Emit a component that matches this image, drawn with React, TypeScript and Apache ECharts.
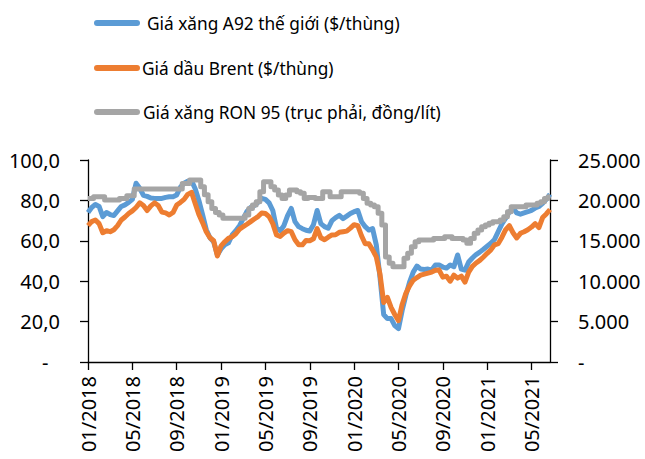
import React, { useEffect, useRef } from "react";
import * as echarts from "echarts";

// 10-day sampling (1st, 11th, 21st of each month), Jan 2018 – Jun 2021
const YEARS = [2018, 2019, 2020, 2021];
const DAYS = [1, 11, 21];
const LAST_MONTH_2021 = 6;

const categories: string[] = [];
YEARS.forEach((y) => {
  const maxM = y === 2021 ? LAST_MONTH_2021 : 12;
  for (let m = 1; m <= maxM; m++) {
    DAYS.forEach((d) => {
      categories.push(`${y}-${String(m).padStart(2, "0")}-${String(d).padStart(2, "0")}`);
    });
  }
});

// Giá xăng A92 thế giới ($/thùng)
const a92 = [
  // 2018
  74.0, 76.5, 78.0, 77.0, 72.0, 74.0, 73.0, 72.5, 74.8, 77.0, 77.8, 79.0,
  80.5, 88.5, 86.0, 82.5, 82.0, 81.2, 81.0, 81.0, 81.0, 81.5, 81.8, 81.8,
  82.7, 86.5, 88.5, 89.5, 89.8, 85.8, 80.0, 73.0, 65.5, 61.5, 59.5, 53.0,
  // 2019
  56.0, 58.0, 59.0, 62.9, 65.0, 67.5, 71.0, 74.5, 76.5, 77.5, 79.0, 81.0,
  80.5, 78.8, 75.0, 66.2, 65.0, 67.5, 72.5, 76.0, 69.5, 67.0, 66.0, 65.2,
  64.8, 68.0, 75.0, 68.5, 67.0, 66.2, 70.0, 71.5, 72.6, 71.0, 72.2, 73.5,
  // 2020
  74.4, 75.0, 69.5, 67.0, 65.3, 66.0, 58.0, 42.0, 23.5, 21.5, 21.5, 18.0,
  16.5, 25.5, 33.0, 39.5, 44.5, 47.5, 46.0, 45.8, 46.0, 45.5, 48.0, 48.0,
  47.0, 46.5, 48.0, 47.2, 53.0, 46.0, 45.5, 49.5, 51.5, 53.2, 54.4, 55.8,
  // 2021
  57.3, 58.8, 60.7, 64.6, 68.4, 71.2, 74.3, 76.3, 73.8, 73.2, 73.8, 74.4,
  75.1, 76.2, 77.0, 78.5, 80.5, 83.0,
];

// Giá dầu Brent ($/thùng)
const brent = [
  // 2018
  67.5, 69.5, 70.3, 68.5, 64.0, 65.0, 64.5, 65.5, 67.5, 70.3, 71.8, 73.5,
  74.8, 76.5, 78.8, 77.5, 75.0, 77.3, 78.8, 77.5, 74.2, 73.8, 72.8, 74.0,
  77.7, 79.0, 80.5, 83.0, 84.0, 78.5, 73.0, 69.0, 64.5, 61.5, 60.0, 52.5,
  // 2019
  57.5, 59.5, 61.2, 62.0, 63.5, 65.8, 67.0, 68.2, 69.5, 70.8, 72.0, 73.8,
  73.5, 72.0, 68.5, 62.9, 62.2, 63.8, 65.0, 64.5, 60.5, 58.0, 58.0, 60.2,
  60.0, 61.0, 66.0, 61.5, 60.5, 61.8, 62.9, 63.0, 64.2, 64.5, 64.8, 66.3,
  // 2020
  68.0, 67.5, 62.5, 58.5, 58.5, 55.5, 52.0, 43.5, 29.5, 32.0, 27.0, 23.5,
  20.5, 28.5, 34.0, 37.7, 40.5, 41.8, 43.0, 43.5, 44.0, 44.5, 45.4, 45.5,
  42.0, 42.5, 40.0, 43.0, 41.5, 42.5, 39.5, 44.5, 47.3, 49.0, 50.3, 52.0,
  // 2021
  53.8, 55.5, 58.0, 58.6, 61.8, 65.5, 67.5, 64.0, 61.4, 63.7, 64.5, 65.5,
  66.8, 68.5, 66.5, 71.5, 73.3, 75.5,
];

// Giá xăng RON 95 (trục phải, đồng/lít)
const ron95 = [
  // 2018
  20250, 20250, 20460, 20460, 20460, 20050, 20050, 20050, 20050, 20250, 20250, 20580,
  20580, 21400, 21400, 21400, 21400, 21400, 21400, 21400, 21400, 21400, 21400, 21400,
  21400, 21400, 22100, 22100, 22530, 22530, 22530, 21700, 20700, 19840, 19010, 18500,
  // 2019
  18190, 17780, 17780, 17780, 17780, 17780, 17780, 18190, 19010, 19430, 19840, 21080,
  22320, 22320, 21700, 21290, 20660, 20250, 20660, 21290, 21290, 21080, 20870, 20250,
  20350, 20350, 20250, 20250, 21080, 21080, 20460, 20460, 20460, 21080, 21080, 21080,
  // 2020
  21080, 21080, 20870, 20250, 19640, 19430, 19220, 18400, 16950, 13000, 12210, 11800,
  11800, 11800, 12830, 13450, 14270, 14890, 15100, 15100, 15100, 15100, 15300, 15300,
  15300, 15510, 15510, 15300, 15300, 15300, 15100, 14690, 15300, 15920, 16340, 16750,
  // 2021
  16950, 17160, 17370, 17370, 17570, 17980, 18600, 19220, 19220, 19220, 19220, 19430,
  19430, 19430, 19640, 19840, 20250, 20460,
];

const LEGEND = [
  "Giá xăng A92 thế giới ($/thùng)",
  "Giá dầu Brent ($/thùng)",
  "Giá xăng RON 95 (trục phải, đồng/lít)",
];
const COLORS = ["#5B9BD5", "#ED7D31", "#A5A5A5"];

const FONT = "'Noto Sans', 'Open Sans', sans-serif";

const isLabelIdx = (i: number) => i % 12 === 0;

export default function App() {
  const ref = useRef<HTMLDivElement>(null);
  useEffect(() => {
    if (!ref.current) return;
    const chart = echarts.init(ref.current, null, { renderer: "svg" });
    const axisLine = { show: true, lineStyle: { color: "#000", width: 1.3 } };
    const axisTick = { show: true, length: 8, lineStyle: { color: "#000", width: 1.3 } };
    const legendY = [23, 68, 112];
    const legendTextX = [147, 142, 143];
    const graphic: any[] = [];
    LEGEND.forEach((t, i) => {
      graphic.push({
        type: "line",
        shape: { x1: 97, y1: legendY[i], x2: 137, y2: legendY[i] },
        style: { stroke: COLORS[i], lineWidth: 6, lineCap: "round" },
      });
      graphic.push({
        type: "text",
        x: legendTextX[i],
        y: legendY[i],
        style: {
          text: t,
          fill: "#000",
          font: `17.3px ${FONT}`,
          textVerticalAlign: "middle",
          verticalAlign: "middle",
        },
      });
    });
    chart.setOption({
      animation: false,
      backgroundColor: "#fff",
      grid: { left: 88, right: 95, top: 160, bottom: 97, containLabel: false },
      xAxis: {
        type: "category",
        data: categories,
        boundaryGap: false,
        axisLine,
        axisTick: { ...axisTick, interval: (i: number) => isLabelIdx(i) },
        axisLabel: {
          interval: (i: number) => isLabelIdx(i),
          rotate: 90,
          margin: 14,
          color: "#000",
          fontSize: 20,
          fontFamily: FONT,
          formatter: (v: string) => `${v.slice(5, 7)}/${v.slice(0, 4)}`,
        },
        splitLine: { show: false },
      },
      yAxis: [
        {
          type: "value",
          min: 0,
          max: 100,
          interval: 20,
          position: "left",
          axisLine,
          axisTick,
          splitLine: { show: false },
          axisLabel: {
            margin: 28,
            color: "#000",
            fontSize: 20,
            fontFamily: FONT,
            formatter: (v: number) => (v === 0 ? "-\u2007" : v.toFixed(1).replace(".", ",")),
          },
        },
        {
          type: "value",
          min: 0,
          max: 25000,
          interval: 5000,
          position: "right",
          axisLine,
          axisTick,
          splitLine: { show: false },
          axisLabel: {
            margin: 28,
            color: "#000",
            fontSize: 20,
            fontFamily: FONT,
            formatter: (v: number) =>
              v === 0 ? "-" : String(v).replace(/\B(?=(\d{3})+(?!\d))/g, "."),
          },
        },
      ],
      graphic,
      series: [
        {
          name: LEGEND[0],
          type: "line",
          data: a92,
          yAxisIndex: 0,
          symbol: "none",
          lineStyle: { color: COLORS[0], width: 5, join: "round" },
          z: 2,
        },
        {
          name: LEGEND[1],
          type: "line",
          data: brent,
          yAxisIndex: 0,
          symbol: "none",
          lineStyle: { color: COLORS[1], width: 5, join: "round" },
          z: 3,
        },
        {
          name: LEGEND[2],
          type: "line",
          data: ron95,
          yAxisIndex: 1,
          symbol: "none",
          step: "middle",
          lineStyle: { color: COLORS[2], width: 5, join: "round" },
          z: 4,
        },
      ],
    });
    return () => chart.dispose();
  }, []);
  return (
    <div
      ref={ref}
      style={{ position: "fixed", left: 0, top: 0, width: 645, height: 459 }}
    />
  );
}
